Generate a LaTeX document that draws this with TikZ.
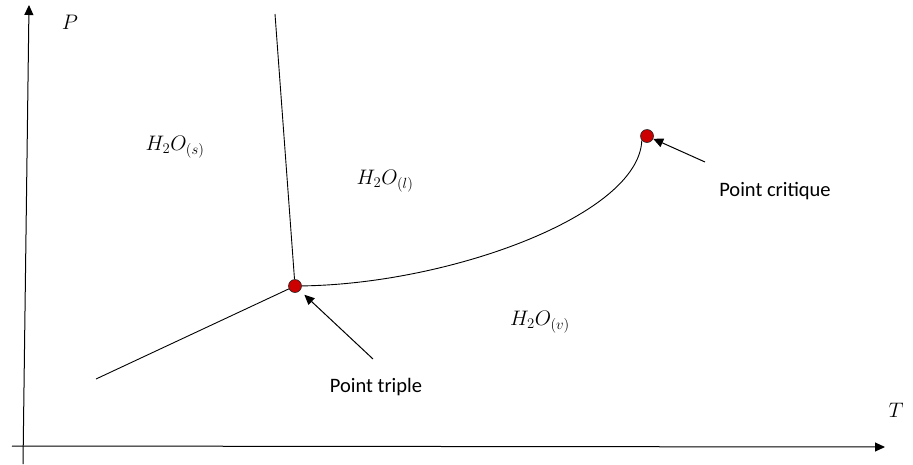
\RequirePackage{fix-cm}
\documentclass[tikz,border=0pt]{standalone}
\usepackage{fontspec}
\setsansfont{Carlito}
\usetikzlibrary{arrows.meta}

\begin{document}
\begin{tikzpicture}[
  x=1pt, y=-1pt,
  >={Triangle[length=10pt,width=9pt]},
  axis/.style={->, line width=1pt},
  phase/.style={line width=0.9pt},
  pointer/.style={->, line width=1pt},
  pt/.style={circle, draw=black!85, fill=red!80!black, minimum size=13pt,
             inner sep=0pt, line width=0.6pt},
  lbl/.style={font=\sffamily\fontsize{20.5}{24}\selectfont},
  region/.style={font=\fontsize{21}{25}\selectfont},
]
  \useasboundingbox (0,0) rectangle (913,464);

  % Axes
  \coordinate (ybot) at (23,464);
  \coordinate (ytop) at (29,5);
  \coordinate (xleft) at (12,446);
  \coordinate (xright) at (885,447);
  \draw[axis] (ybot) -- (ytop);
  \draw[axis] (xleft) -- (xright);
  \node[region] (plab) at (70,22) {$P$};
  \node[region] (tlab) at (896,410) {$T$};

  % Triple and critical points
  \node[pt] (tp) at (295,286) {};
  \node[pt] (cp) at (647,136) {};

  % Phase boundaries
  \coordinate (fus) at (275,14);
  \coordinate (sub) at (96,379);
  \draw[phase] (fus) -- (tp);
  \draw[phase] (sub) -- (tp);
  \draw[phase] (tp) .. controls (450,284) and (639,215) .. (cp.220);

  % Phase regions
  \node[region] (sol) at (175,147) {$H_2O_{(s)}$};
  \node[region] (liq) at (385,181) {$H_2O_{(l)}$};
  \node[region] (vap) at (540,322) {$H_2O_{(v)}$};

  % Annotations
  \node[lbl] (ltp) at (376,387) {Point triple};
  \node[lbl] (lcp) at (775,191) {Point critique};
  \coordinate (atp) at (373,359);
  \coordinate (acp) at (705,162);
  \draw[pointer, shorten >=6pt] (atp) -- (tp);
  \draw[pointer] (acp) -- (cp);
\end{tikzpicture}
\end{document}
